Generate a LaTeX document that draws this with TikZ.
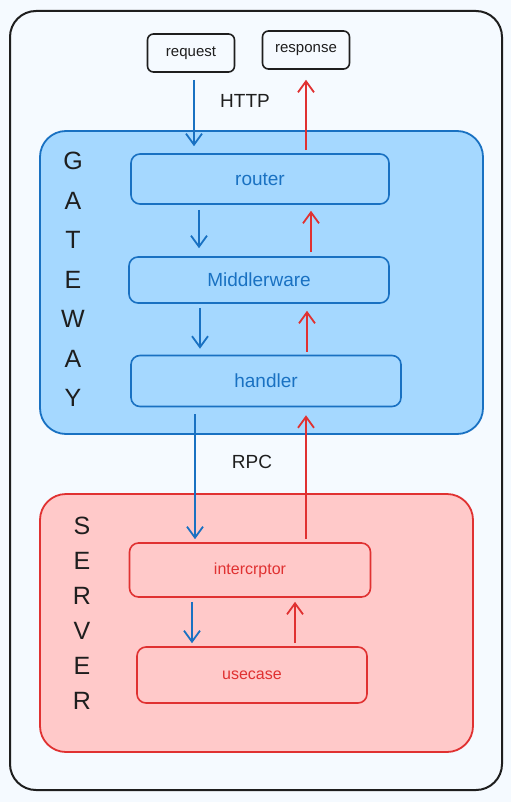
\documentclass[tikz,border=0pt]{standalone}
\usepackage{fontspec}
\setmainfont{Liberation Sans}
\usetikzlibrary{arrows.meta}
\definecolor{pagebg}{HTML}{F5FAFF}
\definecolor{inkblack}{HTML}{1E1E1E}
\definecolor{gwline}{HTML}{1971C2}
\definecolor{gwfill}{HTML}{A5D8FF}
\definecolor{svline}{HTML}{E03131}
\definecolor{svfill}{HTML}{FFC9C9}

\begin{document}
\begin{tikzpicture}[x=1pt,y=-1pt,
    msgbox/.style={draw=inkblack,line width=1.6pt,rounded corners=6pt,fill=pagebg,
      minimum width=87pt,minimum height=38pt,font=\fontsize{15}{17}\selectfont,text=inkblack},
    gwbox/.style={draw=gwline,line width=1.6pt,rounded corners=9pt,fill=gwfill,
      font=\fontsize{19}{22}\selectfont,text=gwline},
    svbox/.style={draw=svline,line width=1.6pt,rounded corners=9pt,fill=svfill,
      font=\fontsize{16}{18}\selectfont,text=svline},
    sidetext/.style={text=inkblack,font=\fontsize{25}{27}\selectfont},
    proto/.style={text=inkblack,font=\fontsize{19}{22}\selectfont},
    goarrow/.style={draw=gwline,line width=1.8pt,-{Straight Barb[length=11pt,width=16pt]}},
    backarrow/.style={draw=svline,line width=1.8pt,-{Straight Barb[length=11pt,width=16pt]}}]
  \useasboundingbox[fill=pagebg] (0,0) rectangle (511,802);
  % outer frame and the two groups
  \draw[inkblack,line width=2pt,rounded corners=26pt] (10,11) rectangle (502,790);
  \draw[gwline,fill=gwfill,line width=1.8pt,rounded corners=26pt] (40,131) rectangle (483,434);
  \draw[svline,fill=svfill,line width=1.8pt,rounded corners=26pt] (40,494) rectangle (473,752);

  \node[msgbox] (request) at (191,53) {request};
  \node[msgbox] (response) at (306,50) {response};

  \node[gwbox,minimum width=258pt,minimum height=50pt] (router) at (260,179) {router};
  \node[gwbox,minimum width=260pt,minimum height=46pt] (middle) at (259,280) {Middlerware};
  \node[gwbox,minimum width=270pt,minimum height=51pt] (handler) at (266,381) {handler};

  \node[svbox,minimum width=241pt,minimum height=54pt] (intercept) at (250,570) {intercrptor};
  \node[svbox,minimum width=230pt,minimum height=56pt] (usecase) at (252,675) {usecase};

  \node[proto] (http) at (245,101) {HTTP};
  \node[proto] (rpc) at (252,462) {RPC};

  \foreach \l [count=\i] in {G,A,T,E,W,A,Y}
    \node[sidetext] (gw\i) at (73,{161+39.5*(\i-1)}) {\l};
  \foreach \l [count=\i] in {S,E,R,V,E,R}
    \node[sidetext] (sv\i) at (82,{526+35*(\i-1)}) {\l};

  % request flow
  \draw[goarrow,shorten <=7pt,shorten >=7pt] ([xshift=3pt]request.south) -- ([xshift=3pt]request.south |- router.north);
  \draw[goarrow,shorten <=5pt,shorten >=8pt] ([xshift=-61pt]router.south) -- ([xshift=-61pt]router.south |- middle.north);
  \draw[goarrow,shorten <=4pt,shorten >=6pt] ([xshift=-59pt]middle.south) -- ([xshift=-59pt]middle.south |- handler.north);
  \draw[goarrow,shorten <=7pt,shorten >=3pt] ([xshift=-71pt]handler.south) -- ([xshift=-71pt]handler.south |- intercept.north);
  \draw[goarrow,shorten <=4pt,shorten >=3pt] ([xshift=-58pt]intercept.south) -- ([xshift=-58pt]intercept.south |- usecase.north);

  % response flow
  \draw[backarrow,shorten <=3pt,shorten >=4pt] ([xshift=43pt]usecase.north) -- ([xshift=43pt]usecase.north |- intercept.south);
  \draw[backarrow,shorten <=3pt,shorten >=8pt] ([xshift=40pt]handler.south |- intercept.north) -- ([xshift=40pt]handler.south);
  \draw[backarrow,shorten <=3pt,shorten >=7pt] ([xshift=48pt]middle.south |- handler.north) -- ([xshift=48pt]middle.south);
  \draw[backarrow,shorten <=4pt,shorten >=6pt] ([xshift=51pt]router.south |- middle.north) -- ([xshift=51pt]router.south);
  \draw[backarrow,shorten <=3pt,shorten >=10pt] (response.south |- router.north) -- (response.south);
\end{tikzpicture}
\end{document}
